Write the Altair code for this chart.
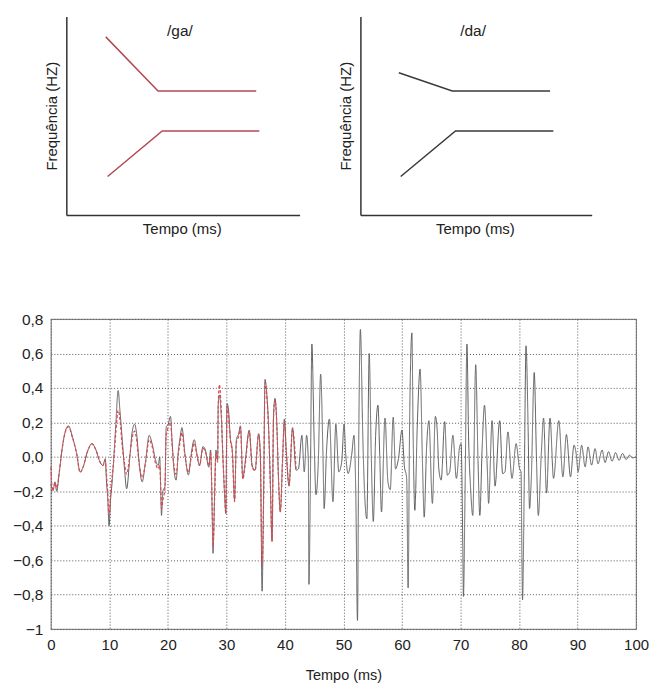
import altair as alt
import pandas as pd

# ---------------- top schematic panels (formant transitions) ----------------
# local panel coordinates (0..1 along each axis)
ga_upper_x = [0.167, 0.391, 0.812]
ga_upper_y = [0.90, 0.627, 0.627]
ga_lower_x = [0.175, 0.409, 0.825]
ga_lower_y = [0.196, 0.426, 0.426]

da_upper_x = [0.164, 0.395, 0.818]
da_upper_y = [0.719, 0.627, 0.627]
da_lower_x = [0.172, 0.409, 0.832]
da_lower_y = [0.196, 0.426, 0.426]

panel_labels = ["/ga/", "/da/"]
panel_colors = ["#b34a55", "#3a3a3a"]
panel_x0 = [0.0, 1.2607]      # where each panel's vertical axis sits on the shared top x scale
panel_span = [1.0, 0.9915]    # length of each panel's horizontal axis
axis_titles = ["Tempo (ms)", "Frequência (HZ)"]

# ---------------- waveform (bottom panel) ----------------
black_t = [0.0, 0.4, 0.7, 1.0, 1.4, 1.9, 2.3, 3.0, 3.7, 4.4, 5.0, 5.5, 6.25, 7.0, 7.7, 8.4, 8.9, 9.3, 9.5, 9.7,
           9.95, 10.2, 10.5, 10.8, 11.1, 11.5, 11.8, 12.2, 12.6, 12.95, 13.5, 13.9, 14.3, 14.65, 15.05, 15.6, 16.2,
           16.8, 17.3, 17.9, 18.35, 18.6, 18.8, 18.9, 19.15, 19.5, 19.7, 20.05, 20.45, 20.7, 21.0, 21.4, 21.8, 22.1,
           22.4, 22.9, 23.5, 24.0, 24.5, 25.0, 25.4, 26.0, 26.4, 27.0, 27.3, 27.6, 27.7, 28.0, 28.2, 28.5, 28.6,
           28.8, 29.1, 29.4, 29.7, 29.9, 30.1, 30.3, 30.7, 31.0, 31.4, 31.7, 32.1, 32.4, 32.8, 33.2, 33.9, 34.4,
           34.9, 35.5, 35.8, 36.1, 36.35, 36.6, 36.9, 37.2, 37.5, 37.8, 38.05, 38.3, 38.6, 38.9, 39.2, 39.6, 39.9,
           40.2, 40.7, 41.3, 41.9, 42.3, 42.9, 43.3, 43.7, 44.0, 44.1, 44.35, 44.6, 45.0, 45.3, 45.7, 46.1, 46.5,
           46.7, 47.1, 47.6, 48.2, 48.7, 49.2, 49.7, 50.1, 50.4, 50.8, 51.4, 51.8, 52.1, 52.4, 52.6, 52.9, 53.3,
           53.6, 54.0, 54.4, 54.75, 55.1, 55.5, 55.9, 56.2, 56.5, 57.1, 57.6, 58.0, 58.5, 58.9, 59.4, 60.0, 60.4,
           60.8, 61.05, 61.3, 61.7, 61.9, 62.2, 62.6, 63.1, 63.5, 63.8, 64.2, 64.6, 65.2, 65.7, 66.0, 66.3, 66.7,
           67.3, 67.75, 68.15, 68.7, 69.3, 69.85, 70.1, 70.4, 70.5, 70.8, 71.1, 71.4, 71.7, 72.1, 72.6, 73.0, 73.3,
           73.7, 74.1, 74.6, 74.8, 75.4, 75.9, 76.7, 77.2, 77.6, 78.1, 78.8, 79.5, 80.1, 80.35, 80.5, 80.6, 80.9,
           81.2, 81.55, 81.8, 82.1, 82.6, 83.0, 83.3, 83.8, 84.2, 84.7, 85.3, 85.9, 86.8, 87.5, 88.1, 88.8, 89.4,
           89.8, 90.1, 90.7, 91.3, 91.8, 92.4, 93.0, 93.5, 94.2, 94.7, 95.3, 95.9, 96.5, 97.1, 97.7, 98.3, 98.9,
           99.4, 100.0]
black_v = [-0.16, -0.19, -0.145, -0.2, -0.1, 0.04, 0.125, 0.18, 0.115, 0.02, -0.087, -0.06, 0.03, 0.077, 0.04,
           -0.03, -0.05, -0.01, -0.14, -0.23, -0.4, -0.25, -0.135, 0.02, 0.19, 0.385, 0.27, 0.1, -0.077, -0.185,
           0.0, 0.145, 0.19, 0.135, -0.02, -0.145, -0.02, 0.125, 0.077, -0.02, -0.05, 0.0, -0.23, -0.34, -0.2,
           -0.17, 0.17, 0.19, 0.235, 0.1, -0.06, -0.135, 0.04, 0.115, 0.17, 0.02, -0.105, 0.02, 0.1, 0.01, -0.05,
           0.06, 0.04, -0.06, 0.04, -0.39, -0.56, -0.19, 0.04, -0.02, 0.3, 0.36, 0.25, 0.0, -0.23, -0.33, 0.31,
           0.29, 0.1, 0.04, -0.25, 0.1, 0.135, 0.18, -0.125, -0.03, 0.155, -0.05, -0.077, 0.135, 0.01, -0.78,
           -0.24, 0.45, 0.36, 0.18, -0.145, -0.49, 0.24, 0.34, 0.2, -0.125, -0.32, -0.01, 0.22, 0.05, -0.17, 0.17,
           -0.077, -0.07, 0.125, -0.087, 0.125, -0.03, -0.74, -0.145, 0.655, 0.087, -0.22, -0.03, 0.48, 0.01,
           -0.3, 0.03, 0.22, -0.26, 0.19, -0.087, -0.03, 0.19, 0.01, -0.097, 0.01, 0.125, -0.2, -0.95, 0.05, 0.74,
           0.125, -0.2, -0.36, 0.6, 0.01, -0.375, 0.125, 0.3, 0.01, -0.32, 0.225, -0.145, -0.19, 0.23, -0.07,
           -0.01, 0.155, -0.05, -0.125, -0.76, 0.18, 0.72, 0.145, -0.31, 0.165, 0.51, -0.03, -0.35, 0.05, 0.21,
           -0.27, 0.235, 0.165, -0.07, -0.135, 0.205, -0.106, -0.087, 0.125, -0.125, 0.058, 0.077, -0.53, -0.81,
           -0.145, 0.655, 0.087, -0.164, -0.34, 0.535, -0.03, -0.34, 0.05, 0.3, -0.087, -0.27, 0.21, -0.17, 0.21,
           -0.097, -0.087, 0.145, -0.125, 0.077, -0.07, -0.087, -0.59, -0.83, -0.145, 0.645, 0.18, -0.3, -0.125,
           0.49, -0.03, -0.34, 0.01, 0.225, -0.21, 0.225, -0.125, 0.21, -0.116, 0.13, -0.116, 0.068, 0.01, -0.087,
           0.068, -0.058, 0.058, -0.048, 0.048, -0.04, 0.04, -0.033, 0.03, -0.025, 0.025, -0.02, 0.02, -0.015,
           0.01, -0.006, 0.0]

red_t = [0.0, 0.3, 0.7, 1.0, 1.4, 1.9, 2.3, 3.0, 3.7, 4.4, 5.0, 5.5, 6.25, 7.0, 7.7, 8.4, 8.9, 9.3, 9.5, 9.7,
         9.95, 10.2, 10.5, 10.8, 11.1, 11.5, 11.8, 12.2, 12.6, 12.95, 13.5, 13.9, 14.3, 14.65, 15.05, 15.6, 16.2,
         16.8, 17.3, 17.9, 18.35, 18.6, 18.8, 18.9, 19.15, 19.5, 19.7, 20.05, 20.45, 20.7, 21.0, 21.4, 21.8, 22.1,
         22.4, 22.9, 23.5, 24.0, 24.5, 25.0, 25.4, 26.0, 26.4, 27.0, 27.3, 27.6, 27.7, 28.0, 28.2, 28.5, 28.6,
         28.8, 29.1, 29.4, 29.7, 29.9, 30.1, 30.3, 30.7, 31.0, 31.4, 31.7, 32.1, 32.4, 32.8, 33.2, 33.9, 34.4,
         34.9, 35.5, 35.8, 36.1, 36.35, 36.6, 36.9, 37.2, 37.5, 37.8, 38.05, 38.3, 38.6, 38.9, 39.2, 39.6, 39.9,
         40.2, 40.7, 41.3, 41.9]
red_v = [-0.06, -0.2, -0.15, -0.18, -0.1, 0.04, 0.12, 0.175, 0.11, 0.02, -0.09, -0.06, 0.03, 0.075, 0.04, -0.03,
         -0.05, -0.02, -0.1, -0.2, -0.34, -0.22, -0.1, 0.0, 0.14, 0.27, 0.22, 0.06, -0.04, -0.1, 0.01, 0.11, 0.15,
         0.1, -0.03, -0.12, -0.03, 0.1, 0.06, -0.04, -0.07, -0.05, -0.2, -0.3, -0.25, -0.18, 0.12, 0.17, 0.2,
         0.08, -0.04, -0.1, 0.02, 0.09, 0.14, 0.01, -0.09, 0.0, 0.08, 0.0, -0.05, 0.05, 0.03, -0.05, 0.02, -0.35,
         -0.52, -0.22, 0.02, -0.03, 0.3, 0.42, 0.28, 0.0, -0.22, -0.33, 0.29, 0.26, 0.09, 0.03, -0.26, 0.08, 0.12,
         0.17, -0.13, -0.05, 0.15, -0.06, -0.08, 0.13, 0.0, -0.62, -0.26, 0.43, 0.36, 0.17, -0.15, -0.49, 0.23,
         0.33, 0.2, -0.13, -0.32, -0.02, 0.2, 0.05, -0.16, 0.16, -0.07]

y_ticks = [-1.0, -0.8, -0.6, -0.4, -0.2, 0.0, 0.2, 0.4, 0.6, 0.8]
x_ticks = [0, 10, 20, 30, 40, 50, 60, 70, 80, 90, 100]

FONT = "Liberation Sans"
TXT = "#222222"

# ---------- build top (one layered chart holding both schematic panels) ----------
formant_rows = []
panels = [
    (ga_upper_x, ga_upper_y, ga_lower_x, ga_lower_y),
    (da_upper_x, da_upper_y, da_lower_x, da_lower_y),
]
for p, (ux, uy, lx, ly) in enumerate(panels):
    for name, xs_, ys_ in (("F2", ux, uy), ("F1", lx, ly)):
        for xv, yv in zip(xs_, ys_):
            formant_rows.append({"x": panel_x0[p] + xv * panel_span[p], "y": yv,
                                 "line": f"{panel_labels[p]}{name}", "col": panel_colors[p]})
df_form = pd.DataFrame(formant_rows)

axis_rows = []
for p in range(2):
    axis_rows.append({"x": panel_x0[p], "x2": panel_x0[p], "y": 0.0, "y2": 1.0})
    axis_rows.append({"x": panel_x0[p], "x2": panel_x0[p] + panel_span[p], "y": 0.0, "y2": 0.0})
df_axes = pd.DataFrame(axis_rows)

df_lbl = pd.DataFrame({
    "x": [panel_x0[p] + 0.485 * panel_span[p] for p in range(2)],
    "y": [0.93, 0.93], "t": panel_labels})
df_xt = pd.DataFrame({
    "x": [panel_x0[p] + 0.495 * panel_span[p] for p in range(2)],
    "y": [-0.07, -0.07], "t": [axis_titles[0]] * 2})
df_yt = pd.DataFrame({
    "x": [panel_x0[p] - 0.062 for p in range(2)],
    "y": [0.5, 0.5], "t": [axis_titles[1]] * 2})

tx = alt.Scale(domain=[-0.06838, 2.44017], nice=False, zero=False)
ty = alt.Scale(domain=[-0.11055, 1.0], nice=False, zero=False)


def X(field):
    return alt.X(field, scale=tx, axis=None)


def Y(field):
    return alt.Y(field, scale=ty, axis=None)


form_lines = alt.Chart(df_form).mark_line(strokeWidth=1.5).encode(
    x=X("x:Q"), y=Y("y:Q"),
    detail="line:N",
    color=alt.Color("col:N", scale=None, legend=None),
)
axis_lines = alt.Chart(df_axes).mark_rule(color="#333333", strokeWidth=1.5).encode(
    x=X("x:Q"), x2="x2:Q", y=Y("y:Q"), y2="y2:Q")
lbl = alt.Chart(df_lbl).mark_text(fontSize=15.5, font=FONT, color=TXT).encode(
    x=X("x:Q"), y=Y("y:Q"), text="t:N")
xt = alt.Chart(df_xt).mark_text(fontSize=15, font=FONT, color=TXT, baseline="middle").encode(
    x=X("x:Q"), y=Y("y:Q"), text="t:N")
yt = alt.Chart(df_yt).mark_text(fontSize=15, font=FONT, color=TXT, angle=270, baseline="middle").encode(
    x=X("x:Q"), y=Y("y:Q"), text="t:N")

top = alt.layer(axis_lines, form_lines, lbl, xt, yt).properties(
    width=587, height=221, view=alt.ViewBackground(stroke="transparent"))

# ---------- bottom waveform: one table, two series ----------
dfw = pd.DataFrame({
    "t": black_t + red_t,
    "v": black_v + red_v,
    "s": ["A"] * len(black_t) + ["B"] * len(red_t),
})

xax = alt.Axis(values=x_ticks, grid=True, gridColor="#555555", gridDash=[1, 2], gridWidth=1,
               ticks=False, domain=False, labelPadding=8, labelFlush=False, labelOverlap=False,
               labelFontSize=15, title="Tempo (ms)", titleFontSize=14.5, titlePadding=17)
yax = alt.Axis(values=y_ticks, grid=True, gridColor="#555555", gridDash=[1, 2], gridWidth=1,
               ticks=False, domain=False, labelPadding=8, labelFlush=False, labelOverlap=False,
               labelFontSize=15.5, title=None,
               labelExpr="datum.value == -1 ? '\u22121' : replace(format(datum.value, '.1f'), '.', ',')")

bottom = alt.Chart(dfw).mark_line(interpolate="monotone").encode(
    x=alt.X("t:Q", scale=alt.Scale(domain=[0, 100], nice=False), axis=xax),
    y=alt.Y("v:Q", scale=alt.Scale(domain=[-1, 0.8], nice=False), axis=yax),
    color=alt.Color("s:N", scale=alt.Scale(domain=["A", "B"], range=["#5c5c5c", "#e0474f"]), legend=None),
    strokeDash=alt.StrokeDash("s:N", scale=alt.Scale(domain=["A", "B"], range=[[1, 0], [3, 2]]), legend=None),
    strokeWidth=alt.StrokeWidth("s:N", scale=alt.Scale(domain=["A", "B"], range=[1.0, 1.2]), legend=None),
    order=alt.Order("t:Q"),
).properties(width=587, height=311, view=alt.ViewBackground(stroke="#8a8a8a", strokeWidth=1.2))

chart = alt.vconcat(top, bottom, spacing=73).resolve_scale(color="independent").properties(
    padding={"left": 3, "top": 6, "right": 0, "bottom": 0}
).configure(font=FONT).configure_axis(
    labelFont=FONT, titleFont=FONT, labelColor=TXT, titleColor=TXT, titleFontWeight="normal"
)

chart.save("out.html", embed_options={"renderer": "svg", "actions": False})
